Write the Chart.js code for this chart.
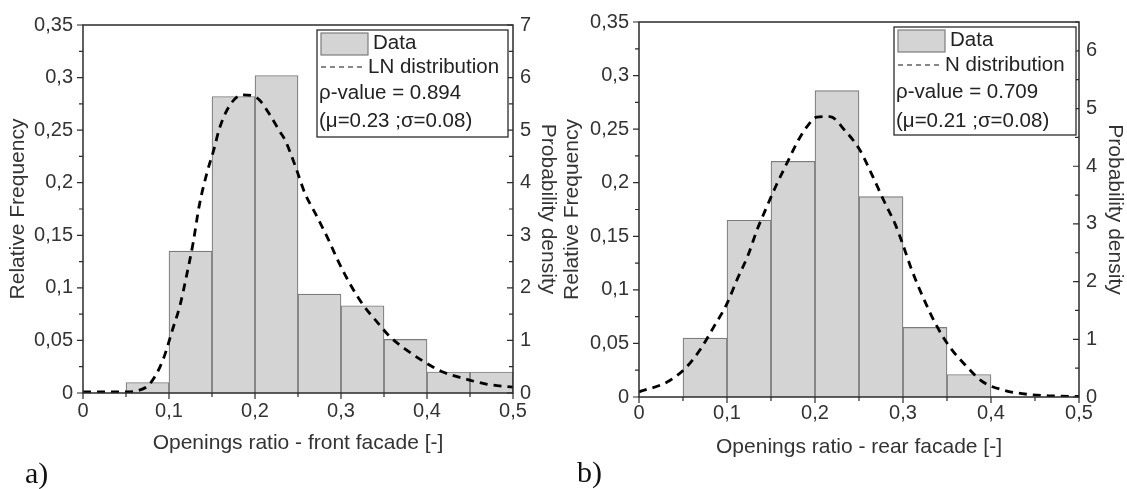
<!DOCTYPE html>
<html>
<head>
<meta charset="utf-8">
<script src="https://cdn.jsdelivr.net/npm/chart.js@4.4.1/dist/chart.umd.min.js"></script>
<style>
  html, body { margin: 0; padding: 0; background: #fff; }
  body { width: 1127px; height: 489px; position: relative; overflow: hidden; }
  canvas { position: absolute; top: 0; }
  #ca { left: 0; }
  #cb { left: 555px; }
  .lab { position: absolute; font-family: "Liberation Serif", "Times New Roman", serif; font-size: 30px; line-height: 30px; color: #111; }
</style>
</head>
<body>
<canvas id="ca" width="575" height="489"></canvas>
<canvas id="cb" width="580" height="489"></canvas>
<div class="lab" style="left:25px; top:458px;">a)</div>
<div class="lab" style="left:577px; top:457px;">b)</div>
<script>
// ---------------- DATA ----------------
const xTicks = [0, 0.1, 0.2, 0.3, 0.4, 0.5];
const relFreqTicks = [0, 0.05, 0.1, 0.15, 0.2, 0.25, 0.3, 0.35];
const densityTicksA = [0, 1, 2, 3, 4, 5, 6, 7];
const densityTicksB = [0, 1, 2, 3, 4, 5, 6];

// (a) front facade
const binCentersA = [0.075, 0.125, 0.175, 0.225, 0.275, 0.325, 0.375, 0.425, 0.475];
const relFreqA    = [0.010, 0.135, 0.282, 0.302, 0.094, 0.083, 0.051, 0.020, 0.020];
const curveXA       = [0, 0.05, 0.063, 0.078, 0.093, 0.104, 0.113, 0.120, 0.128, 0.135, 0.144, 0.152, 0.159, 0.171, 0.185, 0.198, 0.206, 0.217, 0.229, 0.235, 0.247, 0.258, 0.270, 0.285, 0.297, 0.311, 0.326, 0.343, 0.357, 0.376, 0.396, 0.417, 0.442, 0.469, 0.500];
const curveDensityA = [0.02, 0.02, 0.04, 0.18, 0.63, 1.20, 1.68, 2.20, 2.85, 3.55, 4.18, 4.62, 5.05, 5.48, 5.67, 5.65, 5.56, 5.30, 4.97, 4.81, 4.31, 3.80, 3.42, 2.93, 2.50, 2.06, 1.67, 1.33, 1.07, 0.82, 0.60, 0.41, 0.28, 0.17, 0.11];
const legendA = ['Data', 'LN distribution', '\u03C1-value = 0.894', '(\u03BC=0.23 ;\u03C3=0.08)'];
const xTitleA = 'Openings ratio - front facade [-]';

// (b) rear facade
const binCentersB = [0.075, 0.125, 0.175, 0.225, 0.275, 0.325, 0.375];
const relFreqB    = [0.055, 0.165, 0.220, 0.286, 0.187, 0.065, 0.021];
const curveXB       = [0, 0.032, 0.052, 0.069, 0.084, 0.100, 0.111, 0.124, 0.134, 0.145, 0.156, 0.168, 0.181, 0.192, 0.202, 0.217, 0.234, 0.251, 0.266, 0.278, 0.291, 0.299, 0.310, 0.323, 0.338, 0.353, 0.371, 0.391, 0.414, 0.441, 0.467, 0.500];
const curveDensityB = [0.09, 0.26, 0.49, 0.81, 1.19, 1.62, 2.02, 2.46, 2.89, 3.29, 3.67, 4.05, 4.45, 4.71, 4.85, 4.86, 4.62, 4.28, 3.81, 3.41, 3.00, 2.68, 2.20, 1.72, 1.24, 0.87, 0.55, 0.26, 0.12, 0.047, 0.02, 0.01];
const legendB = ['Data', 'N distribution', '\u03C1-value = 0.709', '(\u03BC=0.21 ;\u03C3=0.08)'];
const xTitleB = 'Openings ratio - rear facade [-]';

const yTitle = 'Relative Frequency';
const y2Title = 'Probability density';

// ---------------- STYLE ----------------
const FONT = '"Liberation Sans", Arial, sans-serif';
const TXT = '#333';
const AX = '#2b2b2b';
const BAR_FILL = '#d4d4d4';
const BAR_EDGE = '#7c7c7c';

const fmt = v => String(+(+v).toFixed(3)).replace('.', ',');

// draws frame, tick marks (major + minor) and in-plot legend
const decorPlugin = {
  id: 'decor',
  afterDatasetsDraw(chart, args, o) {
    const ctx = chart.ctx, a = chart.chartArea;
    const sx = chart.scales.x, sy = chart.scales.y, sy2 = chart.scales.y2;
    ctx.save();
    // frame
    ctx.strokeStyle = AX; ctx.lineWidth = 1.5;
    ctx.strokeRect(a.left, a.top, a.right - a.left, a.bottom - a.top);
    ctx.lineWidth = 1.2;
    ctx.beginPath();
    // x ticks (outward)
    const nx = Math.round((sx.max - sx.min) / o.xMinor);
    for (let i = 0; i <= nx; i++) {
      const p = sx.getPixelForValue(sx.min + i * o.xMinor);
      const len = i % 2 === 0 ? 6 : 4;
      ctx.moveTo(p, a.bottom); ctx.lineTo(p, a.bottom + len);
    }
    // left y ticks (outward)
    const ny = Math.round((sy.max - sy.min) / o.yMinor);
    for (let i = 0; i <= ny; i++) {
      const p = sy.getPixelForValue(sy.min + i * o.yMinor);
      const len = i % 2 === 0 ? 6 : 4;
      ctx.moveTo(a.left, p); ctx.lineTo(a.left - len, p);
    }
    // right y ticks (inward)
    const ny2 = Math.floor((sy2.max - sy2.min) / o.y2Minor + 1e-6);
    for (let i = 0; i <= ny2; i++) {
      const p = sy2.getPixelForValue(sy2.min + i * o.y2Minor);
      const len = i % 2 === 0 ? 6 : 4;
      ctx.moveTo(a.right, p); ctx.lineTo(a.right - len, p);
    }
    ctx.stroke();

    // legend box
    const L = o.legend;
    const bx = a.right - L.dr - L.w, by = a.top + L.dt;
    ctx.fillStyle = '#fff';
    ctx.fillRect(bx, by, L.w, L.h);
    ctx.strokeStyle = AX; ctx.lineWidth = 1.3;
    ctx.strokeRect(bx, by, L.w, L.h);
    // swatch
    ctx.fillStyle = BAR_FILL; ctx.strokeStyle = BAR_EDGE; ctx.lineWidth = 1.2;
    ctx.fillRect(bx + 4, by + 3, 47, 22);
    ctx.strokeRect(bx + 4, by + 3, 47, 22);
    // dashed sample
    ctx.strokeStyle = '#111'; ctx.lineWidth = 1.1; ctx.setLineDash([5, 4]);
    ctx.beginPath(); ctx.moveTo(bx + 4, by + L.rows[1]); ctx.lineTo(bx + 48, by + L.rows[1]); ctx.stroke();
    ctx.setLineDash([]);
    ctx.fillStyle = '#222';
    ctx.font = '20.5px ' + FONT;
    ctx.textBaseline = 'middle'; ctx.textAlign = 'left';
    ctx.fillText(L.items[0], bx + 56, by + L.rows[0]);
    ctx.fillText(L.items[1], bx + 51, by + L.rows[1]);
    ctx.fillText(L.items[2], bx + 2, by + L.rows[2]);
    ctx.fillText(L.items[3], bx + 2, by + L.rows[3]);
    ctx.restore();
  }
};

function makeChart(id, g) {
  return new Chart(document.getElementById(id), {
    type: 'bar',
    data: {
      datasets: [
        {
          type: 'line',
          label: g.legend[1],
          data: g.curveX.map((x, i) => ({ x: x, y: g.curveY[i] })),
          yAxisID: 'y2',
          borderColor: '#000',
          borderWidth: 2.8,
          borderDash: [8, 6],
          pointRadius: 0,
          fill: false,
          cubicInterpolationMode: 'monotone',
          order: 0
        },
        {
          type: 'bar',
          label: g.legend[0],
          data: g.binX.map((x, i) => ({ x: x, y: g.binY[i] })),
          yAxisID: 'y',
          backgroundColor: BAR_FILL,
          borderColor: BAR_EDGE,
          borderWidth: 1.2,
          barPercentage: 1,
          categoryPercentage: 1,
          order: 1
        }
      ]
    },
    options: {
      responsive: false,
      animation: false,
      events: [],
      layout: { padding: { top: g.top, left: 0, right: 0, bottom: 0 } },
      plugins: { legend: { display: false }, tooltip: { enabled: false }, decor: g.decor },
      scales: {
        x: {
          type: 'linear', min: 0, max: 0.5, offset: false,
          afterBuildTicks: s => { s.ticks = xTicks.map(v => ({ value: v })); },
          afterFit: s => { s.height = g.xH; },
          grid: { display: false, drawTicks: false },
          border: { display: false },
          ticks: { callback: fmt, color: TXT, font: { family: FONT, size: 20 }, padding: g.xTickPad, maxRotation: 0, autoSkip: false },
          title: { display: true, text: g.xTitle, color: TXT, font: { family: FONT, size: 21 }, padding: { top: 0, bottom: g.xTitlePad } }
        },
        y: {
          type: 'linear', position: 'left', min: 0, max: 0.35,
          afterBuildTicks: s => { s.ticks = relFreqTicks.map(v => ({ value: v })); },
          afterFit: s => { s.width = g.yW; },
          grid: { display: false, drawTicks: false },
          border: { display: false },
          ticks: { callback: fmt, color: TXT, font: { family: FONT, size: 20 }, padding: 10, autoSkip: false },
          title: { display: true, text: yTitle, color: TXT, font: { family: FONT, size: 21 }, padding: { top: g.yTitlePad, bottom: 0 } }
        },
        y2: {
          type: 'linear', position: 'right', min: 0, max: g.y2Max,
          afterBuildTicks: s => { s.ticks = g.y2Ticks.map(v => ({ value: v })); },
          afterFit: s => { s.width = g.y2W; },
          grid: { display: false, drawTicks: false },
          border: { display: false },
          ticks: { callback: fmt, color: TXT, font: { family: FONT, size: 20 }, padding: 7, autoSkip: false },
          title: { display: true, text: y2Title, color: TXT, font: { family: FONT, size: 21 }, padding: { top: g.y2TitlePad, bottom: 0 } }
        }
      }
    },
    plugins: [decorPlugin]
  });
}

makeChart('ca', {
  binX: binCentersA, binY: relFreqA, curveX: curveXA, curveY: curveDensityA,
  legend: legendA, xTitle: xTitleA, y2Ticks: densityTicksA, y2Max: 7,
  top: 25, yW: 83, y2W: 62, xH: 96, xTickPad: 6, xTitlePad: 33, yTitlePad: 5.4, y2TitlePad: 14.4,
  decor: { xMinor: 0.05, yMinor: 0.025, y2Minor: 0.5,
    legend: { items: legendA, dr: 5, dt: 5, w: 191, h: 107, rows: [13, 37, 63, 91] } }
});

makeChart('cb', {
  binX: binCentersB, binY: relFreqB, curveX: curveXB, curveY: curveDensityB,
  legend: legendB, xTitle: xTitleB, y2Ticks: densityTicksB, y2Max: 6.5,
  top: 22, yW: 84, y2W: 56, xH: 92, xTickPad: 4.5, xTitlePad: 29.4, yTitlePad: 4.9, y2TitlePad: 7.4,
  decor: { xMinor: 0.05, yMinor: 0.025, y2Minor: 0.5,
    legend: { items: legendB, dr: 3, dt: 5, w: 182, h: 108, rows: [13, 38, 65, 94] } }
});
</script>
</body>
</html>
